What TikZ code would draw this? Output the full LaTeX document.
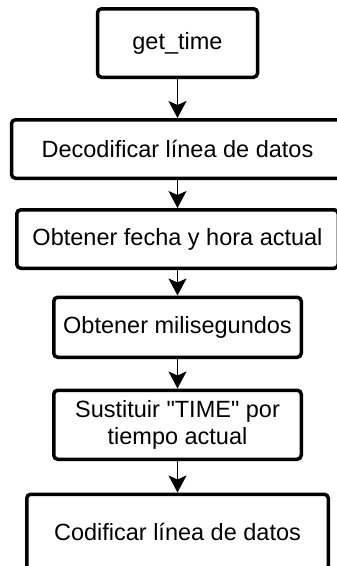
\documentclass[tikz,border=0pt]{standalone}
\usepackage{fontspec}
\setmainfont{Liberation Sans}
\usetikzlibrary{arrows.meta, positioning}

\begin{document}
\begin{tikzpicture}[
  x=1pt, y=1pt,
  node distance=28pt,
  paso/.style={rectangle, draw=black, line width=3.5pt, rounded corners=4pt,
               fill=white, minimum height=58.5pt, inner xsep=4pt,
               font=\fontsize{23.5}{27}\selectfont, align=center},
  arr/.style={-{Stealth[length=17pt, width=18pt, inset=4pt]}, line width=1.6pt},
]
  \useasboundingbox (0,0) rectangle (337,-566);

  \node[paso, minimum width=160pt, minimum height=68.5pt] (gt) at (177.5,-43) {get\_time};
  \node[paso, minimum width=332pt, below=39pt of gt] (dec) {Decodificar línea de datos};
  \node[paso, minimum width=321.5pt, below=28pt of dec] (fecha) {Obtener fecha y hora actual};
  \node[paso, minimum width=247.5pt, minimum height=60pt, below=25.5pt of fecha] (mili) {Obtener milisegundos};
  \node[paso, minimum width=247.5pt, minimum height=69pt, below=29.5pt of mili] (sust) {Sustituir \textquotedbl TIME\textquotedbl{} por\\tiempo actual};
  \node[paso, minimum width=301.5pt, minimum height=76pt, below=31.5pt of sust] (cod) {Codificar línea de datos};

  \draw[arr] (gt) -- (dec);
  \draw[arr] (dec) -- (fecha);
  \draw[arr] (fecha) -- (mili);
  \draw[arr] (mili) -- (sust);
  \draw[arr] (sust) -- (cod);
\end{tikzpicture}
\end{document}
